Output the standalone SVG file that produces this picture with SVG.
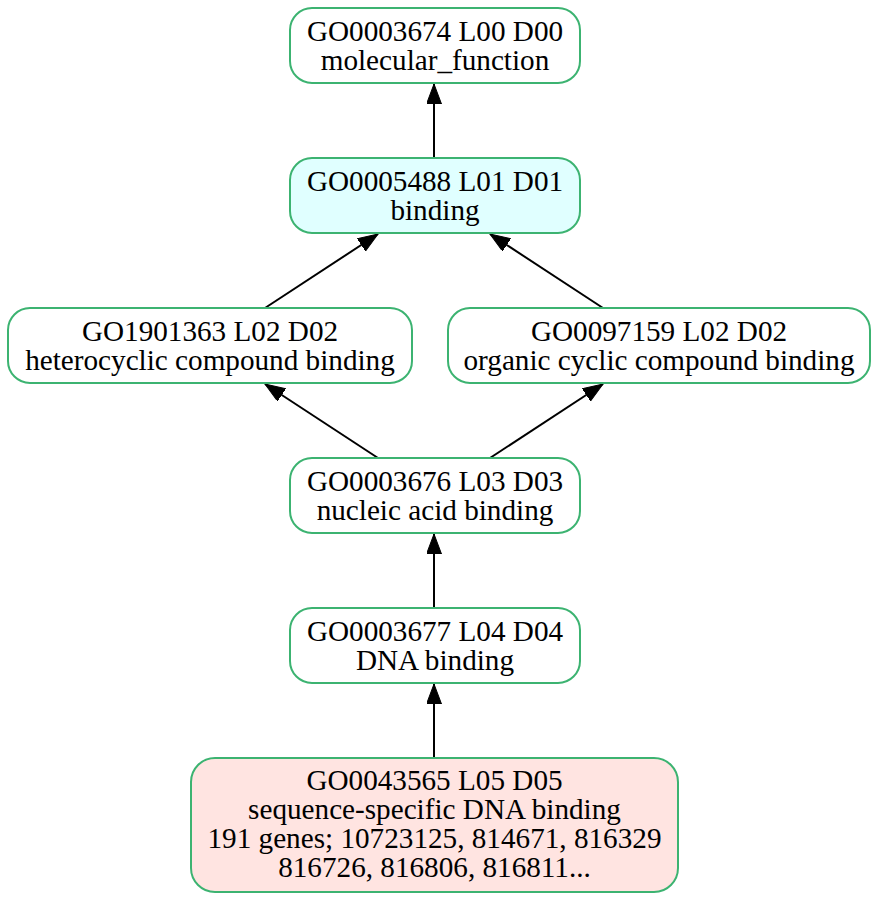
<svg xmlns="http://www.w3.org/2000/svg" width="880" height="900" viewBox="0 0 880 900">
<style>
.node rect{stroke:#3cb371;stroke-width:2;}
.node text{font-family:"Liberation Serif","Times New Roman",serif;font-size:29.2px;fill:#000;text-anchor:middle;}
.edges line{stroke:#000;stroke-width:2;}
</style>
<defs>
<marker id="arr" markerUnits="userSpaceOnUse" markerWidth="22" markerHeight="16" refX="20" refY="7.5" orient="auto" viewBox="0 0 22 16">
<path d="M0,0 L20,7.5 L0,15 z" fill="#000" stroke="#000" stroke-width="1"/>
</marker>
</defs>
<rect width="880" height="900" fill="#fff"/>
<g class="edges">
<line x1="434" y1="158" x2="434" y2="84" marker-end="url(#arr)"/>
<line x1="265" y1="308" x2="378" y2="234" marker-end="url(#arr)"/>
<line x1="603" y1="308" x2="490" y2="234" marker-end="url(#arr)"/>
<line x1="378" y1="458" x2="265" y2="384" marker-end="url(#arr)"/>
<line x1="490" y1="458" x2="603" y2="384" marker-end="url(#arr)"/>
<line x1="434" y1="608" x2="434" y2="534" marker-end="url(#arr)"/>
<line x1="434" y1="758" x2="434" y2="684" marker-end="url(#arr)"/>
</g>
<g id="GO0003674" class="node">
<rect x="290" y="8" width="290" height="75" rx="22" fill="#fff"/>
<text x="435" y="41">GO0003674 L00 D00</text>
<text x="435" y="70">molecular_function</text>
</g>
<g id="GO0005488" class="node">
<rect x="290" y="158" width="290" height="75" rx="22" fill="#e0ffff"/>
<text x="435" y="191">GO0005488 L01 D01</text>
<text x="435" y="220">binding</text>
</g>
<g id="GO1901363" class="node">
<rect x="8" y="308" width="404" height="75" rx="22" fill="#fff"/>
<text x="210" y="341">GO1901363 L02 D02</text>
<text x="210" y="370">heterocyclic compound binding</text>
</g>
<g id="GO0097159" class="node">
<rect x="448" y="308" width="422" height="75" rx="22" fill="#fff"/>
<text x="659" y="341">GO0097159 L02 D02</text>
<text x="659" y="370">organic cyclic compound binding</text>
</g>
<g id="GO0003676" class="node">
<rect x="290" y="458" width="290" height="75" rx="22" fill="#fff"/>
<text x="435" y="491">GO0003676 L03 D03</text>
<text x="435" y="520">nucleic acid binding</text>
</g>
<g id="GO0003677" class="node">
<rect x="290" y="608" width="290" height="75" rx="22" fill="#fff"/>
<text x="435" y="641">GO0003677 L04 D04</text>
<text x="435" y="670">DNA binding</text>
</g>
<g id="GO0043565" class="node">
<rect x="191" y="758" width="487" height="134" rx="24" fill="#ffe4e1"/>
<text x="434.5" y="790">GO0043565 L05 D05</text>
<text x="434.5" y="819">sequence-specific DNA binding</text>
<text x="434.5" y="848">191 genes; 10723125, 814671, 816329</text>
<text x="434.5" y="877">816726, 816806, 816811...</text>
</g>
</svg>
